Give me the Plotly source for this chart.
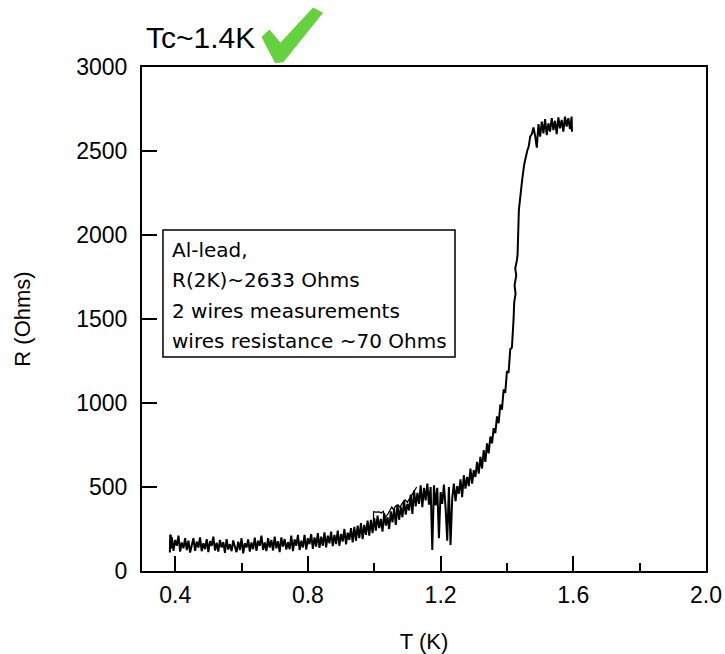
import plotly.graph_objects as go

# ---- main sweep: temperature (K) ----
T_main = [
    0.384, 0.385, 0.386, 0.387, 0.388,
    0.390, 0.395, 0.400, 0.405, 0.410, 0.415, 0.420, 0.425, 0.430, 0.435,
    0.440, 0.445, 0.450, 0.455, 0.460, 0.465, 0.470, 0.475, 0.480, 0.485,
    0.490, 0.495, 0.500, 0.505, 0.510, 0.515, 0.520, 0.525, 0.530, 0.535,
    0.540, 0.545, 0.550, 0.555, 0.560, 0.565, 0.570, 0.575, 0.580, 0.585,
    0.590, 0.595, 0.600, 0.605, 0.610, 0.615, 0.620, 0.625, 0.630, 0.635,
    0.640, 0.645, 0.650, 0.655, 0.660, 0.665, 0.670, 0.675, 0.680, 0.685,
    0.690, 0.695, 0.700, 0.705, 0.710, 0.715, 0.720, 0.725, 0.730, 0.735,
    0.740, 0.745, 0.750, 0.755, 0.760, 0.765, 0.770, 0.775, 0.780, 0.785,
    0.790, 0.795, 0.800, 0.805, 0.810, 0.815, 0.820, 0.825, 0.830, 0.835,
    0.840, 0.845, 0.850, 0.855, 0.860, 0.865, 0.870, 0.875, 0.880, 0.885,
    0.890, 0.895, 0.900, 0.905, 0.910, 0.915, 0.920, 0.925, 0.930, 0.935,
    0.940, 0.945, 0.950, 0.955, 0.960, 0.965, 0.970, 0.975, 0.980, 0.985,
    0.990, 0.995, 1.000,
    1.005, 1.010, 1.015, 1.020, 1.025, 1.030, 1.035, 1.040, 1.045, 1.050,
    1.055, 1.060, 1.065, 1.070, 1.075, 1.080, 1.085, 1.090, 1.095, 1.100,
    1.105, 1.110, 1.115, 1.120, 1.125, 1.130, 1.135, 1.140, 1.145, 1.150,
    1.155, 1.160, 1.165, 1.170, 1.175, 1.180, 1.185, 1.190, 1.195, 1.200,
    1.205, 1.210, 1.215, 1.220, 1.225, 1.230, 1.235, 1.240, 1.245, 1.250,
    1.255, 1.260, 1.265, 1.270, 1.275, 1.280, 1.285, 1.290, 1.295, 1.300,
    1.305, 1.310, 1.315, 1.320, 1.325, 1.330, 1.335, 1.340, 1.345, 1.350,
    1.355, 1.360, 1.365, 1.370, 1.375, 1.380, 1.385, 1.390, 1.395, 1.400,
    1.405, 1.410, 1.415, 1.420,
    1.422, 1.426, 1.423, 1.428, 1.425, 1.430, 1.432, 1.436, 1.441, 1.446,
    1.452, 1.458, 1.461, 1.466, 1.470, 1.475,
    1.480, 1.485, 1.490, 1.495, 1.500, 1.505, 1.510, 1.515, 1.520, 1.525,
    1.530, 1.535, 1.540, 1.545, 1.550, 1.555, 1.560, 1.565, 1.570, 1.575,
    1.580, 1.585, 1.590, 1.595, 1.596,
]

# ---- main sweep: resistance (Ohms) ----
R_main = [
    110, 215, 120, 210, 135,
    200, 120, 185, 150, 210, 115, 170, 135, 195, 125,
    180, 110, 160, 195, 120, 175, 140, 200, 118, 165,
    130, 190, 112, 178, 150, 205, 122, 168, 115, 185,
    140, 172, 108, 190, 128, 160, 118, 182, 145, 112,
    175, 125, 195, 105, 165, 140, 188, 115, 170, 130,
    198, 120, 180, 150, 210, 125, 170, 118, 195, 140,
    185, 122, 205, 135, 178, 112, 200, 145, 190, 128,
    172, 130, 210, 118, 188, 150, 215, 125, 180, 140,
    215, 128, 195, 160, 220, 132, 200, 145, 225, 138,
    205, 150, 230, 140, 210, 165, 235, 148, 215, 160,
    240, 150, 220, 175, 250, 158, 228, 185, 255, 170,
    262, 180, 270, 195, 285, 190, 275, 215, 300, 210,
    305, 225, 315,
    240, 330, 255, 310, 235, 345, 270, 320, 250, 355,
    290, 370, 275, 395, 305, 380, 320, 420, 335, 400,
    360, 455, 340, 480, 385, 465, 400, 510, 380, 495,
    420, 520, 395, 500, 125, 510, 390, 495, 195, 470,
    400, 515, 380, 180, 500, 155, 430, 520, 415, 505,
    460, 545, 440, 570, 490, 560, 505, 610, 520, 600,
    560, 650, 580, 680, 610, 720, 650, 760, 700, 800,
    760, 850, 820, 920, 880, 990, 960, 1080, 1060, 1190,
    1180, 1320, 1330, 1500,
    1600, 1650, 1700, 1760, 1800, 1850, 1880, 2150, 2250, 2330,
    2420, 2480, 2500, 2530, 2585, 2600,
    2640, 2590, 2520, 2660, 2585, 2675, 2605, 2690, 2595, 2665,
    2615, 2695, 2625, 2680, 2600, 2700, 2635, 2685, 2615, 2705,
    2645, 2695, 2630, 2705, 2615,
]

# ---- second sweep branch (thin line above the band near 1.0-1.13 K) ----
T_branch = [0.9975, 0.998, 1.005, 1.015, 1.022, 1.027, 1.033, 1.040, 1.047, 1.053,
            1.058, 1.064, 1.072, 1.078, 1.085, 1.093, 1.100, 1.110, 1.120, 1.128]
R_branch = [250, 353, 350, 352, 345, 355, 320, 335, 360, 381,
            365, 385, 393, 380, 405, 423, 410, 440, 470, 500]

x_tickvals = [0.4, 0.8, 1.2, 1.6, 2.0]
x_ticktext = ["0.4", "0.8", "1.2", "1.6", "2.0"]
y_tickvals = [0, 500, 1000, 1500, 2000, 2500, 3000]

title_text = "Tc~1.4K"
note_lines = ["Al-lead,", "R(2K)~2633 Ohms", "2 wires measurements", "wires resistance ~70 Ohms"]

FONT = "Liberation Sans, Arial, Helvetica, sans-serif"

fig = go.Figure()
fig.add_trace(go.Scatter(x=T_main, y=R_main, mode="lines",
                         line=dict(color="black", width=2.0), showlegend=False))
fig.add_trace(go.Scatter(x=T_branch, y=R_branch, mode="lines",
                         line=dict(color="black", width=1.3), showlegend=False))

fig.update_layout(
    width=725, height=654,
    margin=dict(l=142, r=19, t=67, b=83),
    paper_bgcolor="white", plot_bgcolor="white",
    font=dict(family=FONT, color="black", size=22),
    xaxis=dict(
        range=[0.3, 2.0], tickvals=x_tickvals, ticktext=x_ticktext,
        ticks="inside", ticklen=15, tickwidth=1.5, tickcolor="black",
        minor=dict(dtick=0.2, tick0=0.4, ticks="inside", ticklen=8, tickwidth=1.5, tickcolor="black"),
        showline=True, linecolor="black", linewidth=2, mirror=True,
        showgrid=False, zeroline=False, automargin=False,
        tickfont=dict(size=23), ticklabelstandoff=2,
        title=dict(text="T (K)", font=dict(size=22), standoff=28),
    ),
    yaxis=dict(
        range=[0, 3000], tickvals=y_tickvals,
        ticks="inside", ticklen=15, tickwidth=1.5, tickcolor="black",
        showline=True, linecolor="black", linewidth=2, mirror=True,
        showgrid=False, zeroline=False, automargin=False,
        tickfont=dict(size=23), ticklabelstandoff=8,
        title=dict(text="R (Ohms)", font=dict(size=22), standoff=40),
    ),
)

# note box
fig.add_shape(type="rect", xref="paper", yref="paper",
              x0=0.0372, x1=0.555, y0=0.4246, y1=0.6766,
              line=dict(color="black", width=1.5), fillcolor="white", layer="above")
note_y = [0.6369, 0.5774, 0.5159, 0.4563]
for txt, yy in zip(note_lines, note_y):
    fig.add_annotation(text=txt, xref="paper", yref="paper", x=0.0496, y=yy,
                       xanchor="left", yanchor="middle", showarrow=False,
                       font=dict(family="DejaVu Sans, sans-serif", size=20, color="black"))

# title text
fig.add_annotation(text=title_text, xref="paper", yref="paper", x=0.0035, y=1.0595,
                   xanchor="left", yanchor="middle", showarrow=False,
                   font=dict(family=FONT, size=30, color="black"))

# green check mark
check = ("M 0.2151 1.0590 L 0.2257 1.0701 L 0.2452 1.0437 L 0.3038 1.1145 "
         "L 0.3169 1.1065 L 0.2495 1.0125 L 0.2376 1.0105 Z")
fig.add_shape(type="path", xref="paper", yref="paper", path=check,
              fillcolor="#64D23C", line=dict(color="#64D23C", width=3), layer="above")

# remove the page's default body margin so the 725x654 figure fills the window exactly
fig.write_html("out.html",
               config={"displayModeBar": False},
               post_script="document.body.style.margin='0';document.body.style.overflow='hidden';")
